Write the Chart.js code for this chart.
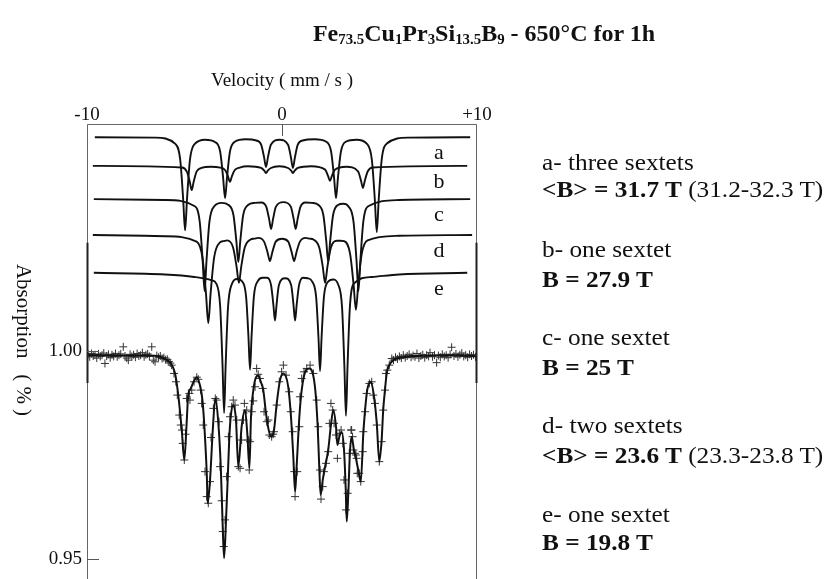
<!DOCTYPE html>
<html>
<head>
<meta charset="utf-8">
<script src="https://cdn.jsdelivr.net/npm/chart.js@4.4.0/dist/chart.umd.min.js"></script>
<style>
html, body { margin: 0; padding: 0; background: #fff; overflow: hidden; }
#area { position: relative; width: 829px; height: 579px; font-family: "Liberation Serif", "Times New Roman", serif; color: #111; }
#grafico { position: absolute; left: 0; top: 0; }
#titulo { position: absolute; left: 484px; top: 21px; font-size: 24px; line-height: 24px; font-weight: bold; white-space: nowrap; transform: translateX(-50%); }
#titulo sub { font-size: 0.62em; vertical-align: -0.22em; line-height: 0; }
.txt { position: absolute; left: 542px; font-size: 23px; line-height: 23px; white-space: nowrap; transform: scaleX(1.1); transform-origin: left center; }
</style>
</head>
<body>
<div id="area">
  <canvas id="grafico" width="829" height="579"></canvas>
  <div id="titulo">Fe<sub>73.5</sub>Cu<sub>1</sub>Pr<sub>3</sub>Si<sub>13.5</sub>B<sub>9</sub> - 650°C for 1h</div>
  <div class="txt" style="top:151px">a- three sextets</div>
  <div class="txt" style="top:178px"><b>&lt;B&gt; = 31.7 T</b> (31.2-32.3 T)</div>
  <div class="txt" style="top:238px">b- one sextet</div>
  <div class="txt" style="top:268px"><b>B = 27.9 T</b></div>
  <div class="txt" style="top:326px">c- one sextet</div>
  <div class="txt" style="top:356px"><b>B = 25 T</b></div>
  <div class="txt" style="top:414px">d- two sextets</div>
  <div class="txt" style="top:444px"><b>&lt;B&gt; = 23.6 T</b> (23.3-23.8 T)</div>
  <div class="txt" style="top:503px">e- one sextet</div>
  <div class="txt" style="top:531px"><b>B = 19.8 T</b></div>
</div>
<script>
// eixos
const velTicks = [-10, 0, 10];
const absTicks = [0.95, 1.00];

// espectro medido (velocidade mm/s, transmissao relativa)
const medidos = [
  [-9.95,0.9992],[-9.86,0.9986],[-9.77,0.9994],[-9.68,0.9988],[-9.59,0.9991],[-9.50,0.9983],[-9.41,0.9993],[-9.32,0.9987],
  [-9.23,0.9990],[-9.14,0.9995],[-9.08,0.9970],[-8.99,0.9988],[-8.90,0.9992],[-8.81,0.9984],[-8.72,0.9991],[-8.63,0.9987],
  [-8.54,0.9994],[-8.45,0.9986],[-8.36,0.9990],[-8.27,0.9993],[-8.14,1.0010],[-8.05,0.9988],[-7.96,0.9983],[-7.88,0.9978],
  [-7.79,0.9992],[-7.70,0.9987],[-7.61,0.9991],[-7.52,0.9985],[-7.43,0.9994],[-7.34,0.9988],[-7.25,0.9990],[-7.16,0.9996],
  [-7.07,0.9986],[-6.98,0.9991],[-6.89,0.9993],[-6.80,0.9987],[-6.68,1.0010],[-6.60,0.9978],[-6.51,0.9974],[-6.42,0.9989],
  [-6.33,0.9985],[-6.24,0.9988],[-6.15,0.9982],[-6.06,0.9984],[-5.97,0.9979],[-5.88,0.9980],[-5.80,0.9975],[-5.73,0.9971],
  [-5.66,0.9966],[-5.54,0.9946],[-5.44,0.9926],[-5.37,0.9894],[-5.27,0.9846],[-5.19,0.9822],[-5.13,0.9810],[-5.09,0.9778],
  [-5.01,0.9738],[-4.95,0.9800],[-4.89,0.9886],[-4.75,0.9898],[-4.72,0.9882],[-4.63,0.9906],[-4.51,0.9926],[-4.37,0.9937],
  [-4.29,0.9932],[-4.17,0.9906],[-4.12,0.9874],[-4.04,0.9822],[-3.95,0.9710],[-3.86,0.9650],[-3.78,0.9634],[-3.69,0.9686],
  [-3.64,0.9792],[-3.52,0.9862],[-3.42,0.9886],[-3.35,0.9882],[-3.23,0.9830],[-3.18,0.9722],[-3.09,0.9640],[-3.04,0.9566],
  [-2.99,0.9530],[-2.92,0.9594],[-2.84,0.9698],[-2.75,0.9794],[-2.67,0.9842],[-2.58,0.9866],[-2.50,0.9882],[-2.41,0.9870],
  [-2.32,0.9834],[-2.24,0.9722],[-2.15,0.9718],[-2.07,0.9786],[-1.98,0.9834],[-1.93,0.9874],[-1.81,0.9858],[-1.73,0.9786],
  [-1.68,0.9714],[-1.64,0.9782],[-1.55,0.9854],[-1.47,0.9880],[-1.38,0.9914],[-1.30,0.9958],[-1.22,0.9944],[-1.13,0.9934],
  [-0.99,0.9910],[-0.92,0.9854],[-0.78,0.9830],[-0.70,0.9834],[-0.65,0.9798],[-0.53,0.9794],[-0.45,0.9800],[-0.41,0.9806],
  [-0.27,0.9870],[-0.14,0.9926],[-0.02,0.9950],[0.07,0.9966],[0.21,0.9942],[0.37,0.9902],[0.45,0.9854],[0.55,0.9806],
  [0.63,0.9710],[0.67,0.9650],[0.78,0.9710],[0.89,0.9818],[0.92,0.9890],[1.01,0.9934],[1.13,0.9950],[1.27,0.9958],
  [1.44,0.9966],[1.61,0.9946],[1.78,0.9882],[1.86,0.9818],[1.95,0.9714],[2.00,0.9644],[2.09,0.9674],[2.15,0.9710],
  [2.26,0.9730],[2.37,0.9758],[2.43,0.9826],[2.51,0.9874],[2.60,0.9858],[2.67,0.9826],[2.77,0.9798],[2.84,0.9742],
  [2.94,0.9802],[3.03,0.9810],[3.12,0.9778],[3.18,0.9690],[3.28,0.9618],[3.37,0.9658],[3.45,0.9754],[3.54,0.9810],
  [3.57,0.9810],[3.62,0.9794],[3.66,0.9762],[3.74,0.9754],[3.79,0.9750],[3.83,0.9742],[3.86,0.9706],[3.96,0.9706],
  [4.04,0.9686],[4.14,0.9758],[4.17,0.9806],[4.26,0.9854],[4.34,0.9898],[4.48,0.9922],[4.60,0.9926],[4.68,0.9894],
  [4.77,0.9874],[4.86,0.9822],[4.99,0.9734],[5.11,0.9782],[5.19,0.9858],[5.28,0.9906],[5.33,0.9946],[5.40,0.9954],
  [5.50,0.9966],[5.63,0.9982],[5.72,0.9978],[5.82,0.9985],[5.92,0.9981],[6.02,0.9987],[6.12,0.9983],[6.22,0.9990],
  [6.32,0.9984],[6.42,0.9988],[6.52,0.9992],[6.62,0.9985],[6.72,0.9989],[6.82,0.9986],[6.92,0.9994],[7.02,0.9983],
  [7.12,0.9988],[7.22,0.9991],[7.32,0.9984],[7.42,0.9990],[7.52,0.9987],[7.59,0.9996],[7.72,0.9986],[7.82,0.9990],
  [7.93,0.9972],[8.02,0.9989],[8.12,0.9985],[8.22,0.9992],[8.32,0.9987],[8.42,0.9990],[8.52,0.9984],[8.62,0.9992],
  [8.70,1.0009],[8.82,0.9988],[8.92,0.9993],[9.02,0.9986],[9.12,0.9991],[9.22,0.9995],[9.32,0.9987],[9.42,0.9990],
  [9.52,0.9985],[9.62,0.9992],[9.72,0.9988],[9.82,0.9991],[9.92,0.9986],[10.00,0.9989]
];

// curva ajustada
const ajuste = [
  [-10.00,0.9990],[-8.31,0.9989],[-6.77,0.9989],[-6.26,0.9986],[-5.95,0.9980],[-5.74,0.9972],[-5.49,0.9947],[-5.32,0.9894],
  [-5.14,0.9810],[-5.01,0.9738],[-4.89,0.9827],[-4.81,0.9894],[-4.69,0.9909],[-4.56,0.9923],[-4.37,0.9937],[-4.21,0.9918],
  [-4.08,0.9882],[-3.98,0.9818],[-3.86,0.9707],[-3.81,0.9634],[-3.69,0.9690],[-3.55,0.9810],[-3.42,0.9886],[-3.27,0.9830],
  [-3.14,0.9722],[-3.04,0.9578],[-2.97,0.9502],[-2.87,0.9594],[-2.78,0.9698],[-2.70,0.9794],[-2.62,0.9846],[-2.50,0.9870],
  [-2.36,0.9834],[-2.24,0.9722],[-2.07,0.9818],[-1.90,0.9858],[-1.78,0.9802],[-1.67,0.9719],[-1.59,0.9842],[-1.47,0.9906],
  [-1.33,0.9937],[-1.22,0.9941],[-1.08,0.9925],[-0.96,0.9906],[-0.82,0.9850],[-0.70,0.9814],[-0.56,0.9794],[-0.41,0.9810],
  [-0.27,0.9874],[-0.10,0.9930],[0.07,0.9946],[0.32,0.9914],[0.46,0.9842],[0.58,0.9746],[0.67,0.9661],[0.75,0.9722],
  [0.89,0.9842],[1.01,0.9906],[1.23,0.9954],[1.40,0.9958],[1.69,0.9914],[1.83,0.9818],[1.91,0.9722],[1.98,0.9654],
  [2.09,0.9690],[2.21,0.9722],[2.37,0.9762],[2.50,0.9818],[2.63,0.9858],[2.77,0.9818],[2.84,0.9774],[2.94,0.9794],
  [3.06,0.9805],[3.18,0.9762],[3.27,0.9666],[3.32,0.9590],[3.40,0.9658],[3.49,0.9762],[3.57,0.9794],[3.69,0.9762],
  [3.79,0.9742],[3.91,0.9714],[4.04,0.9686],[4.17,0.9802],[4.26,0.9858],[4.37,0.9906],[4.55,0.9926],[4.72,0.9890],
  [4.86,0.9826],[4.99,0.9734],[5.11,0.9786],[5.19,0.9858],[5.28,0.9906],[5.37,0.9946],[5.50,0.9966],[5.71,0.9978],
  [6.22,0.9985],[6.91,0.9988],[8.62,0.9990],[10.00,0.9988]
];

// subespectros (linha de base = 1)
const subA = [
  [-9.60,1.0000],[-6.50,0.9999],[-5.47,0.9984],[-5.22,0.9946],[-5.07,0.9852],[-4.97,0.9776],[-4.87,0.9852],[-4.72,0.9946],
  [-4.47,0.9984],[-3.95,0.9994],[-3.42,0.9988],[-3.17,0.9965],[-3.02,0.9903],[-2.92,0.9853],[-2.82,0.9903],[-2.67,0.9965],
  [-2.42,0.9989],[-1.87,0.9995],[-1.32,0.9992],[-1.07,0.9982],[-0.92,0.9952],[-0.82,0.9928],[-0.72,0.9952],[-0.57,0.9982],
  [-0.13,0.9994],[0.31,0.9982],[0.46,0.9951],[0.56,0.9926],[0.66,0.9951],[0.81,0.9982],[1.06,0.9992],[1.67,0.9995],
  [2.27,0.9989],[2.52,0.9965],[2.67,0.9903],[2.77,0.9853],[2.87,0.9903],[3.02,0.9965],[3.27,0.9989],[3.82,0.9994],
  [4.36,0.9984],[4.61,0.9945],[4.76,0.9850],[4.86,0.9772],[4.96,0.9850],[5.11,0.9945],[5.36,0.9984],[6.50,0.9999],
  [9.65,1.0000]
];
const subB = [
  [-9.70,1.0000],[-5.13,0.9996],[-4.88,0.9986],[-4.73,0.9962],[-4.63,0.9942],[-4.53,0.9962],[-4.38,0.9986],[-4.13,0.9995],
  [-3.65,0.9998],[-3.17,0.9996],[-2.92,0.9990],[-2.77,0.9975],[-2.67,0.9962],[-2.57,0.9975],[-2.42,0.9990],[-2.17,0.9996],
  [-1.75,0.9999],[-1.07,0.9995],[-0.92,0.9989],[-0.82,0.9983],[-0.72,0.9989],[-0.57,0.9995],[-0.13,0.9999],[0.31,0.9995],
  [0.46,0.9989],[0.56,0.9983],[0.66,0.9989],[0.81,0.9995],[1.50,0.9999],[2.21,0.9991],[2.36,0.9976],[2.46,0.9964],
  [2.56,0.9976],[2.71,0.9991],[3.30,0.9998],[3.90,0.9987],[4.05,0.9965],[4.15,0.9947],[4.25,0.9965],[4.40,0.9987],
  [4.65,0.9996],[9.50,1.0000]
];
const subC = [
  [-9.65,1.0000],[-6.00,0.9998],[-4.47,0.9983],[-4.22,0.9946],[-4.07,0.9853],[-3.97,0.9779],[-3.87,0.9853],[-3.72,0.9946],
  [-3.47,0.9983],[-3.10,0.9991],[-2.74,0.9986],[-2.49,0.9962],[-2.34,0.9899],[-2.24,0.9849],[-2.14,0.9899],[-1.99,0.9962],
  [-1.74,0.9986],[-1.40,0.9991],[-1.06,0.9992],[-0.81,0.9982],[-0.66,0.9952],[-0.56,0.9928],[-0.46,0.9952],[-0.31,0.9982],
  [0.07,0.9993],[0.45,0.9982],[0.60,0.9952],[0.70,0.9928],[0.80,0.9952],[0.95,0.9982],[1.20,0.9992],[1.54,0.9991],
  [1.87,0.9986],[2.12,0.9962],[2.27,0.9899],[2.37,0.9849],[2.47,0.9899],[2.62,0.9962],[2.87,0.9986],[3.15,0.9989],
  [3.42,0.9982],[3.67,0.9945],[3.82,0.9853],[3.92,0.9779],[4.02,0.9853],[4.17,0.9946],[4.42,0.9983],[6.00,0.9998],
  [9.65,1.0000]
];
const subD = [
  [-9.70,1.0000],[-6.00,0.9997],[-4.38,0.9984],[-4.08,0.9946],[-3.90,0.9860],[-3.78,0.9788],[-3.66,0.9860],[-3.48,0.9946],
  [-3.18,0.9982],[-3.00,0.9985],[-2.81,0.9987],[-2.51,0.9970],[-2.33,0.9924],[-2.21,0.9885],[-2.09,0.9924],[-1.91,0.9970],
  [-1.61,0.9989],[-1.42,0.9991],[-1.22,0.9993],[-0.92,0.9984],[-0.74,0.9958],[-0.62,0.9937],[-0.50,0.9958],[-0.32,0.9984],
  [0.00,0.9991],[0.32,0.9984],[0.50,0.9958],[0.62,0.9937],[0.74,0.9958],[0.92,0.9984],[1.22,0.9993],[1.42,0.9991],
  [1.61,0.9989],[1.91,0.9970],[2.09,0.9924],[2.21,0.9885],[2.33,0.9924],[2.51,0.9970],[2.81,0.9986],[3.00,0.9986],
  [3.19,0.9985],[3.49,0.9955],[3.67,0.9881],[3.79,0.9820],[3.91,0.9881],[4.09,0.9955],[4.39,0.9987],[6.00,0.9998],
  [9.75,1.0000]
];
const subE = [
  [-9.65,1.0000],[-6.00,0.9996],[-4.50,0.9990],[-3.60,0.9982],[-3.37,0.9974],[-3.17,0.9919],[-3.05,0.9778],[-2.97,0.9663],
  [-2.89,0.9778],[-2.77,0.9916],[-2.57,0.9973],[-2.31,0.9985],[-2.04,0.9979],[-1.84,0.9942],[-1.72,0.9846],[-1.64,0.9767],
  [-1.56,0.9848],[-1.44,0.9944],[-1.24,0.9980],[-1.00,0.9988],[-0.76,0.9988],[-0.56,0.9970],[-0.44,0.9922],[-0.36,0.9885],
  [-0.28,0.9923],[-0.16,0.9970],[0.16,0.9987],[0.47,0.9970],[0.59,0.9923],[0.67,0.9885],[0.75,0.9922],[0.87,0.9969],
  [1.07,0.9988],[1.31,0.9987],[1.55,0.9979],[1.75,0.9942],[1.87,0.9845],[1.95,0.9764],[2.03,0.9845],[2.15,0.9942],
  [2.35,0.9978],[2.62,0.9984],[2.88,0.9972],[3.08,0.9917],[3.20,0.9774],[3.28,0.9656],[3.36,0.9774],[3.48,0.9917],
  [3.68,0.9974],[4.60,0.9990],[6.00,0.9996],[9.50,1.0000]
];

const nomes = ['a', 'b', 'c', 'd', 'e'];
const subespectros = [subA, subB, subC, subD, subE];
// deslocamento vertical de cada subespectro acima do espectro medido
const desvios = [0.0514, 0.0445, 0.0365, 0.0279, 0.0188];

const fonte = '"Liberation Serif", "Times New Roman", serif';

function pontos(pares, d) {
  return pares.map(p => ({ x: p[0], y: p[1] + (d || 0) }));
}

const conjuntos = [{
  data: pontos(ajuste),
  borderColor: '#111',
  borderWidth: 2,
  pointRadius: 0,
  cubicInterpolationMode: 'monotone'
}];
subespectros.forEach((s, i) => {
  conjuntos.push({
    data: pontos(s, desvios[i]),
    borderColor: '#111',
    borderWidth: 1.9,
    pointRadius: 0,
    cubicInterpolationMode: 'monotone'
  });
});
conjuntos.push({
  data: pontos(medidos),
  showLine: false,
  pointStyle: 'cross',
  pointRadius: 4,
  pointBorderWidth: 1,
  pointBorderColor: '#333',
  pointBackgroundColor: '#333'
});

// moldura, marcas internas, letras dos subespectros e titulo vertical
const moldura = {
  id: 'moldura',
  afterDraw(chart) {
    const ctx = chart.ctx;
    const a = chart.chartArea;
    const x = chart.scales.x, y = chart.scales.y;
    ctx.save();
    ctx.strokeStyle = '#666';
    ctx.lineWidth = 1;
    ctx.beginPath();
    ctx.moveTo(a.left + 0.5, a.bottom);
    ctx.lineTo(a.left + 0.5, a.top + 0.5);
    ctx.lineTo(a.right - 0.5, a.top + 0.5);
    ctx.lineTo(a.right - 0.5, a.bottom);
    ctx.stroke();

    // trechos mais escuros das laterais
    ctx.strokeStyle = '#222';
    ctx.lineWidth = 2;
    ctx.beginPath();
    ctx.moveTo(a.left + 0.5, y.getPixelForValue(1.026));
    ctx.lineTo(a.left + 0.5, y.getPixelForValue(0.9923));
    ctx.moveTo(a.right - 0.5, y.getPixelForValue(1.026));
    ctx.lineTo(a.right - 0.5, y.getPixelForValue(0.9923));
    ctx.stroke();

    ctx.strokeStyle = '#555';
    ctx.lineWidth = 1;
    ctx.beginPath();
    const x0 = Math.round(x.getPixelForValue(0)) + 0.5;
    ctx.moveTo(x0, a.top);
    ctx.lineTo(x0, a.top + 12);
    absTicks.forEach(v => {
      const py = Math.round(y.getPixelForValue(v)) + 0.5;
      ctx.moveTo(a.left, py);
      ctx.lineTo(a.left + 12, py);
    });
    ctx.stroke();

    ctx.fillStyle = '#111';
    ctx.font = '22px ' + fonte;
    ctx.textAlign = 'center';
    ctx.textBaseline = 'alphabetic';
    nomes.forEach((n, i) => {
      ctx.fillText(n, x.getPixelForValue(8.05), y.getPixelForValue(1 + desvios[i]) + 22);
    });

    ctx.font = '21px ' + fonte;
    ctx.translate(23, y.getPixelForValue(1.0) - 11);
    ctx.rotate(Math.PI / 2);
    ctx.textBaseline = 'middle';
    ctx.fillText('Absorption   ( % )', 0, 0);
    ctx.restore();
  }
};

new Chart(document.getElementById('grafico'), {
  type: 'line',
  data: { datasets: conjuntos },
  options: {
    responsive: false,
    animation: false,
    events: [],
    layout: { autoPadding: false, padding: { left: 0, right: 352, top: 0, bottom: 0 } },
    plugins: { legend: { display: false }, tooltip: { enabled: false } },
    scales: {
      x: {
        type: 'linear',
        position: 'top',
        min: -10,
        max: 10,
        grid: { display: false, drawTicks: false },
        border: { display: false },
        afterBuildTicks: s => { s.ticks = velTicks.map(v => ({ value: v })); },
        afterFit: s => { s.height = 124; },
        ticks: {
          padding: -2,
          autoSkip: false,
          maxRotation: 0,
          color: '#111',
          font: { family: fonte, size: 19 },
          callback: v => (v > 0 ? '+' + v : String(v))
        },
        title: {
          display: true,
          text: 'Velocity ( mm / s )',
          color: '#111',
          font: { family: fonte, size: 19 },
          padding: { top: 70, bottom: 0 }
        }
      },
      y: {
        type: 'linear',
        min: 0.94519,
        max: 1.05457,
        grid: { display: false, drawTicks: false },
        border: { display: false },
        afterBuildTicks: s => { s.ticks = absTicks.map(v => ({ value: v })); },
        afterFit: s => { s.width = 87; s.paddingTop = 0; s.paddingBottom = 0; },
        ticks: {
          padding: 5,
          color: '#111',
          font: { family: fonte, size: 19 },
          callback: v => v.toFixed(2)
        }
      }
    }
  },
  plugins: [moldura]
});
</script>
</body>
</html>
